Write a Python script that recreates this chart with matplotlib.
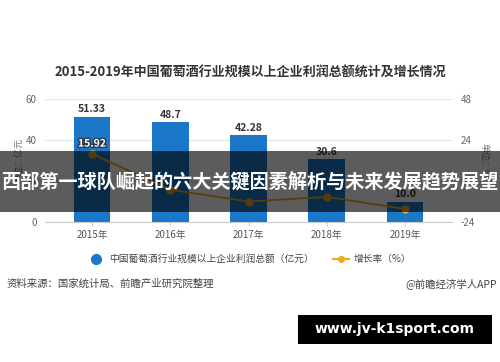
import matplotlib
matplotlib.use("Agg")
import matplotlib.pyplot as plt
from matplotlib.patches import Rectangle
from matplotlib.lines import Line2D
import matplotlib.patheffects as pe

plt.rcParams['font.family'] = ['Noto Sans CJK SC', 'DejaVu Sans']
plt.rcParams['axes.unicode_minus'] = False

years = ['2015年', '2016年', '2017年', '2018年', '2019年']
profit = [51.33, 48.7, 42.28, 30.6, 10.0]
profit_labels = ['51.33', '48.7', '42.28', '30.6', '10.0']
growth = [15.92, -5.1, -12.0, -9.3, -16.4]
left_ticks = [0, 20, 40, 60]
right_ticks = [-24, 0, 24, 48]

title = '2015-2019年中国葡萄酒行业规模以上企业利润总额统计及增长情况'
banner = '西部第一球队崛起的六大关键因素解析与未来发展趋势展望'

W, H = 500, 362
fig = plt.figure(figsize=(5, 3.62), dpi=100)
fig.patch.set_facecolor('white')

def fx(px):
    return px / W

def fy(py):
    return 1 - py / H

ax = fig.add_axes([fx(45), fy(222), fx(452) - fx(45), fy(99) - fy(222)])
ax2 = ax.twinx()

bar_color = '#1b78c8'
line_color = '#f2a81d'
x = list(range(len(years)))

ax.bar(x, profit, width=0.47, color=bar_color, zorder=2)
for xi, v, lab in zip(x, profit, profit_labels):
    ax.text(xi, v + 1.2, lab, ha='center', va='bottom', fontsize=7.5,
            fontweight='bold', color='#333333', zorder=5)

ax.set_xlim(-0.6, 4.6)
ax.set_ylim(0, 60)
ax.set_yticks(left_ticks)
ax.set_xticks(x)
ax.set_xticklabels(years)
ax.grid(axis='y', color='#e3e3e3', linewidth=0.8, zorder=0)
ax.set_axisbelow(True)
for s in ['top', 'right', 'left']:
    ax.spines[s].set_visible(False)
ax.spines['bottom'].set_color('#cccccc')
ax.tick_params(axis='y', length=0, labelsize=7, labelcolor='#666666', pad=6)
ax.tick_params(axis='x', length=3, color='#cccccc', labelsize=7, labelcolor='#555555', pad=3)
ax.set_ylabel('单位：亿元', fontsize=6.5, color='#777777', labelpad=2)

ax2.plot(x, growth, color=line_color, linewidth=1.3, marker='o', markersize=5,
         markerfacecolor=line_color, markeredgecolor=line_color, zorder=4)
ax2.set_ylim(-24, 48)
ax2.set_yticks(right_ticks)
for s in ['top', 'right', 'left', 'bottom']:
    ax2.spines[s].set_visible(False)
ax2.tick_params(axis='y', length=0, labelsize=7, labelcolor='#666666', pad=6)
ax2.set_ylabel('单位：%', fontsize=6.5, color='#777777', rotation=-90, labelpad=10)
ax2.text(0, growth[0] + 3, '15.92', ha='center', va='bottom', fontsize=7.5,
         fontweight='bold', color='white', zorder=6,
         path_effects=[pe.withStroke(linewidth=2, foreground='#2a3a4a')])

fig.text(0.5, fy(73), title, ha='center', va='center', fontsize=9.4,
         fontweight='bold', color='#333333')

handles = [Line2D([0], [0], marker='o', linestyle='none', markersize=7,
                  markerfacecolor=bar_color, markeredgecolor=bar_color),
           Line2D([0], [0], color=line_color, linewidth=1.5, marker='o',
                  markersize=4, markerfacecolor=line_color)]
fig.legend(handles, ['中国葡萄酒行业规模以上企业利润总额（亿元）', '增长率（%）'],
           loc='center', bbox_to_anchor=(0.5, fy(259)), ncol=2, frameon=False,
           fontsize=7, handlelength=1.6, handletextpad=0.5, columnspacing=2.0,
           labelcolor='#444444')

fig.text(fx(7), fy(284), '资料来源：国家统计局、前瞻产业研究院整理', ha='left', va='center',
         fontsize=7.5, color='#444444')
fig.text(fx(497), fy(284), '@前瞻经济学人APP', ha='right', va='center',
         fontsize=7.5, color='#444444')

fig.patches.append(Rectangle((0, fy(212)), 1, (212 - 151) / H, transform=fig.transFigure,
                             facecolor='black', alpha=0.64, edgecolor='none', zorder=10))
fig.text(0.5, fy(182), banner, ha='center', va='center', fontsize=13.8,
         fontweight='bold', color='white', zorder=11)

fig.patches.append(Rectangle((fx(298), fy(344)), fx(492) - fx(298), (344 - 315) / H,
                             transform=fig.transFigure, facecolor='black',
                             edgecolor='none', zorder=10))
fig.text(fx(395), fy(329.5), 'www.jv-k1sport.com', ha='center', va='center',
         fontsize=10, fontweight='bold', color='white', zorder=11,
         family='DejaVu Sans')

fig.savefig('out.png', dpi=100)
